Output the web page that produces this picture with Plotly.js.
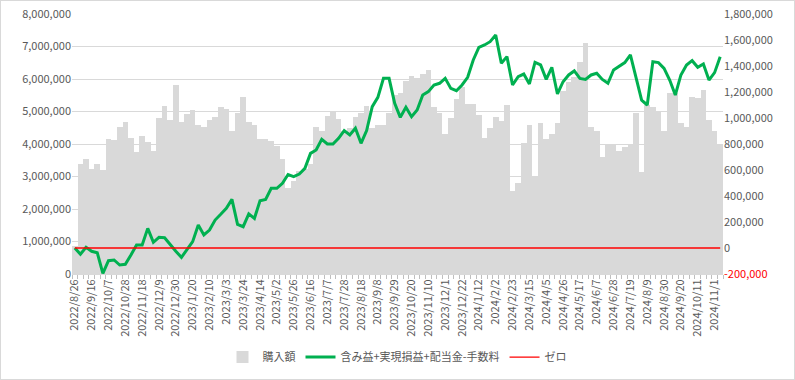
<!DOCTYPE html>
<html>
<head>
<meta charset="utf-8">
<script src="https://cdn.plot.ly/plotly-3.0.1.min.js"></script>
<style>
html,body{margin:0;padding:0;background:#fff;}
#frame{width:795px;height:380px;box-sizing:border-box;border:1px solid #d9d9d9;}
#chart{width:793px;height:378px;}
</style>
</head>
<body>
<div id="frame"><div id="chart"></div></div>
<script>
// Weekly dates (categories)
const dates = [
"2022/8/26","2022/9/2","2022/9/9","2022/9/16","2022/9/23","2022/9/30","2022/10/7","2022/10/14","2022/10/21","2022/10/28",
"2022/11/4","2022/11/11","2022/11/18","2022/11/25","2022/12/2","2022/12/9","2022/12/16","2022/12/23","2022/12/30","2023/1/6",
"2023/1/13","2023/1/20","2023/1/27","2023/2/3","2023/2/10","2023/2/17","2023/2/24","2023/3/3","2023/3/10","2023/3/17",
"2023/3/24","2023/3/31","2023/4/7","2023/4/14","2023/4/21","2023/4/28","2023/5/2","2023/5/12","2023/5/19","2023/5/26",
"2023/6/2","2023/6/9","2023/6/16","2023/6/23","2023/6/30","2023/7/7","2023/7/14","2023/7/21","2023/7/28","2023/8/4",
"2023/8/11","2023/8/18","2023/8/25","2023/9/1","2023/9/8","2023/9/15","2023/9/22","2023/9/29","2023/10/6","2023/10/13",
"2023/10/20","2023/10/27","2023/11/3","2023/11/10","2023/11/17","2023/11/24","2023/12/1","2023/12/8","2023/12/15","2023/12/22",
"2023/12/29","2024/1/5","2024/1/12","2024/1/19","2024/1/26","2024/2/2","2024/2/9","2024/2/16","2024/2/23","2024/3/1",
"2024/3/8","2024/3/15","2024/3/22","2024/3/29","2024/4/5","2024/4/12","2024/4/19","2024/4/26","2024/5/3","2024/5/10",
"2024/5/17","2024/5/24","2024/5/31","2024/6/7","2024/6/14","2024/6/21","2024/6/28","2024/7/5","2024/7/12","2024/7/19",
"2024/7/26","2024/8/2","2024/8/9","2024/8/16","2024/8/23","2024/8/30","2024/9/6","2024/9/13","2024/9/20","2024/9/27",
"2024/10/4","2024/10/11","2024/10/18","2024/10/25","2024/11/1","2024/11/8"
];

// 購入額 (yen)
const purchase = [
 860000,3380000,3550000,3220000,3400000,3200000,4140000,4120000,4530000,4690000,
 4170000,3760000,4260000,4070000,3780000,4790000,5180000,4740000,5820000,4690000,
 4930000,5040000,4580000,4520000,4730000,4820000,5150000,5080000,4400000,4940000,
 5460000,4680000,4570000,4150000,4140000,4100000,3930000,3550000,2650000,2850000,
 3180000,3240000,3390000,4530000,4400000,4870000,4990000,4760000,4400000,4500000,
 4820000,4950000,5170000,4490000,4600000,4580000,4950000,5500000,5560000,5930000,
 6100000,6020000,6160000,6270000,5150000,4940000,4310000,4790000,5370000,5740000,
 5220000,5220000,4890000,4170000,4500000,4820000,4710000,5200000,2560000,2810000,
 4020000,4580000,3000000,4640000,4140000,4310000,4660000,5630000,5920000,6070000,
 6530000,7100000,4510000,4410000,3610000,3990000,3990000,3790000,3920000,3970000,
 4960000,3150000,5200000,5150000,5020000,4410000,5560000,5560000,4660000,4510000,
 5460000,5410000,5660000,4740000,4410000,4000000
];

// 含み益+実現損益+配当金-手数料 (yen)
const profit = [
 0,-48000,5000,-25000,-36000,-195000,-98000,-92000,-131000,-125000,
 -54000,23000,23000,151000,44000,82000,79000,23000,-25000,-72000,
 -15000,49000,177000,100000,138000,215000,259000,305000,374000,182000,
 164000,262000,228000,364000,374000,459000,459000,498000,565000,549000,
 569000,613000,728000,754000,836000,800000,800000,844000,903000,869000,
 921000,805000,903000,1087000,1159000,1305000,1305000,1113000,1005000,1082000,
 1010000,1062000,1177000,1203000,1254000,1267000,1305000,1228000,1210000,1254000,
 1313000,1446000,1544000,1562000,1587000,1638000,1421000,1472000,1254000,1318000,
 1338000,1262000,1428000,1408000,1297000,1390000,1185000,1279000,1331000,1362000,
 1305000,1297000,1331000,1344000,1297000,1267000,1369000,1400000,1426000,1485000,
 1318000,1138000,1100000,1433000,1426000,1382000,1292000,1177000,1331000,1408000,
 1441000,1390000,1415000,1292000,1349000,1472000
];

// ゼロ line
const zeroX = [dates[0], dates[dates.length - 1]];
const zeroY = [0, 0];

// Tick labels
const leftTicks = [0,1000000,2000000,3000000,4000000,5000000,6000000,7000000,8000000];
const rightTicks = [-200000,0,200000,400000,600000,800000,1000000,1200000,1400000,1600000,1800000];
const rightTickText = ['<span style="color:#ff0000">-200,000</span>','0','200,000','400,000','600,000','800,000','1,000,000','1,200,000','1,400,000','1,600,000','1,800,000'];
const xTickText = dates.map((d, i) => (i % 3 === 0 ? d : ''));

const font = "'Noto Sans CJK JP', 'Noto Sans', sans-serif";
const gray = '#595959';

const traces = [
  {type:'bar', name:'購入額', x:dates, y:purchase, marker:{color:'#d9d9d9', line:{width:0}}, yaxis:'y', hoverinfo:'skip'},
  {type:'scatter', mode:'lines', name:'含み益+実現損益+配当金-手数料', x:dates, y:profit, yaxis:'y2', line:{color:'#00b050', width:3}},
  {type:'scatter', mode:'lines', name:'ゼロ', x:zeroX, y:zeroY, yaxis:'y2', line:{color:'#ff0000', width:1.3}}
];

const layout = {
  width:793, height:378,
  margin:{l:71, r:71, t:13, b:105, autoexpand:false},
  paper_bgcolor:'#ffffff', plot_bgcolor:'#ffffff',
  font:{family:font, size:11, color:gray},
  bargap:0,
  showlegend:true,
  legend:{orientation:'h', x:0.5, xanchor:'center', xref:'container', y:0.058, yanchor:'middle', yref:'container',
          font:{size:11, color:gray}, itemwidth:30, tracegroupgap:0},
  xaxis:{type:'category', tickvals:dates, ticktext:xTickText, tickangle:-90, tickson:'boundaries',
         ticks:'outside', ticklen:4, tickcolor:'#bfbfbf', showline:true, linecolor:'#d9d9d9',
         showgrid:false, tickfont:{size:11, color:gray}, automargin:false},
  yaxis:{range:[0,8000000], tickvals:leftTicks, tickformat:',', showgrid:true, gridcolor:'#d9d9d9',
         zeroline:false, showline:false, ticks:'', tickfont:{size:11, color:gray}, automargin:false},
  yaxis2:{range:[-200000,1800000], overlaying:'y', side:'right', tickvals:rightTicks, ticktext:rightTickText,
          showgrid:false, zeroline:false, showline:false, ticks:'', tickfont:{size:11, color:gray}, automargin:false}
};

Plotly.newPlot('chart', traces, layout, {displayModeBar:false, staticPlot:true});
</script>
</body>
</html>
